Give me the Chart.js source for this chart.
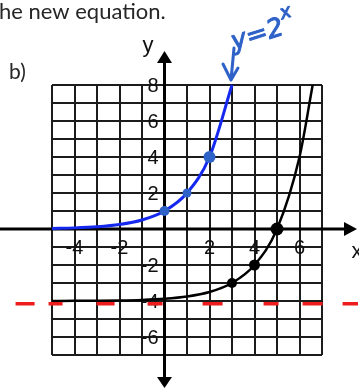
<!DOCTYPE html>
<html>
<head>
<meta charset="utf-8">
<script src="https://cdn.jsdelivr.net/npm/chart.js@4.4.1/dist/chart.umd.min.js"></script>
<style>
  html, body { margin: 0; padding: 0; background: #ffffff; }
  #c { display: block; }
</style>
</head>
<body>
<canvas id="c" width="359" height="388"></canvas>
<script>
// Axis tick labels
const xTickLabels = [-4, -2, 2, 4, 6];
const yTickLabels = [8, 6, 4, 2, -2, -4, -6];

// y = 2^x, sampled at whole numbers
const blueX = [-5, -4, -3, -2, -1, 0, 1, 2, 3];
const blueY = [0.03125, 0.0625, 0.125, 0.25, 0.5, 1, 2, 4, 8];

// shifted curve y = 2^(x-3) - 4
const blackX = [-5, -4, -3, -2, -1, 0, 1, 2, 3, 4, 5, 6, 6.585];
const blackY = [-3.996, -3.992, -3.984, -3.969, -3.938, -3.875, -3.75, -3.5, -3, -2, 0, 4, 8];

// marked points
const blueDotX = [0, 1, 2];
const blueDotY = [1, 2, 4];
const blackDotX = [3, 4, 5];
const blackDotY = [-3, -2, 0];

// horizontal asymptote sketched in red
const asymX = [-7.33, 8.6];
const asymY = [-4.15, -4.15];

const toPts = (xs, ys) => xs.map((x, i) => ({ x: x, y: ys[i] }));

const INK = '#1c1c1c';
const PEN_BLUE = '#2f62c8';

const extras = {
  id: 'extras',
  beforeDatasetsDraw(chart) {
    const ctx = chart.ctx;
    const xs = chart.scales.x, ys = chart.scales.y;
    const ox = xs.getPixelForValue(0), oy = ys.getPixelForValue(0);
    ctx.save();
    ctx.strokeStyle = '#000';
    ctx.fillStyle = '#000';
    ctx.lineWidth = 3;
    // x axis
    ctx.beginPath();
    ctx.moveTo(0, oy); ctx.lineTo(346, oy);
    ctx.stroke();
    ctx.beginPath();
    ctx.moveTo(357, oy); ctx.lineTo(344, oy - 7); ctx.lineTo(344, oy + 7); ctx.closePath();
    ctx.fill();
    // y axis
    ctx.beginPath();
    ctx.moveTo(ox, 62); ctx.lineTo(ox, 378);
    ctx.stroke();
    ctx.beginPath();
    ctx.moveTo(ox, 51); ctx.lineTo(ox - 7.5, 63); ctx.lineTo(ox + 7.5, 63); ctx.closePath();
    ctx.fill();
    ctx.beginPath();
    ctx.moveTo(ox, 388); ctx.lineTo(ox - 7.5, 377); ctx.lineTo(ox + 7.5, 377); ctx.closePath();
    ctx.fill();

    // tick numbers
    ctx.font = '20px "Liberation Sans", Arial, sans-serif';
    ctx.fillStyle = '#111';
    ctx.textBaseline = 'middle';
    ctx.textAlign = 'center';
    const rowBelow = ys.getPixelForValue(-1);
    xTickLabels.forEach(v => {
      ctx.fillText(String(v), xs.getPixelForValue(v), rowBelow + 1);
    });
    ctx.textAlign = 'right';
    yTickLabels.forEach(v => {
      ctx.fillText(String(v), ox - 6, ys.getPixelForValue(v) + 1);
    });

    // axis names
    ctx.font = '22px "Liberation Sans", Arial, sans-serif';
    ctx.textBaseline = 'alphabetic';
    ctx.textAlign = 'center';
    ctx.fillText('y', 148, 52);
    ctx.fillText('x', 357, 258);
    ctx.restore();
  },
  afterDraw(chart) {
    const ctx = chart.ctx;
    ctx.save();
    // worksheet text
    ctx.fillStyle = '#262626';
    ctx.font = '22px Lato, "Open Sans", sans-serif';
    ctx.textBaseline = 'alphabetic';
    ctx.textAlign = 'left';
    ctx.fillText('he new equation.', -1, 19);
    ctx.font = '21px Lato, "Open Sans", sans-serif';
    ctx.fillText('b)', 9, 79);

    // handwritten label with arrow
    ctx.strokeStyle = PEN_BLUE;
    ctx.fillStyle = PEN_BLUE;
    ctx.lineWidth = 3;
    ctx.lineCap = 'round';
    ctx.lineJoin = 'round';
    ctx.beginPath();
    ctx.moveTo(234, 48); ctx.lineTo(231, 80);
    ctx.moveTo(223, 64); ctx.lineTo(231, 80); ctx.lineTo(238, 68);
    ctx.stroke();
    ctx.translate(234, 50);
    ctx.rotate(-0.3);
    ctx.lineWidth = 1;
    ctx.font = 'italic 26px "DejaVu Sans", sans-serif';
    ctx.fillText('y=2', 0, 0);
    ctx.strokeText('y=2', 0, 0);
    const w = ctx.measureText('y=2').width;
    ctx.font = 'italic 19px "DejaVu Sans", sans-serif';
    ctx.fillText('x', w + 1, -15);
    ctx.strokeText('x', w + 1, -15);
    ctx.restore();
  }
};

new Chart(document.getElementById('c'), {
  type: 'scatter',
  data: {
    datasets: [
      {
        data: toPts(asymX, asymY),
        showLine: true,
        borderColor: '#ee1c1c',
        borderWidth: 3.5,
        borderDash: [0, 16, 19, 14, 14, 34, 18, 33, 15, 40, 20, 41, 15, 24, 20, 20, 16, 40],
        pointRadius: 0,
        clip: false
      },
      {
        data: toPts(blackDotX, blackDotY),
        backgroundColor: '#000',
        borderColor: '#000',
        borderWidth: 0,
        pointRadius: [5, 5.5, 6.5],
        clip: false
      },
      {
        data: toPts(blueDotX, blueDotY),
        backgroundColor: PEN_BLUE,
        borderColor: PEN_BLUE,
        borderWidth: 0,
        pointRadius: [5, 4.5, 6],
        clip: false
      },
      {
        data: toPts(blackX, blackY),
        showLine: true,
        borderColor: '#000',
        borderWidth: 2.5,
        cubicInterpolationMode: 'monotone',
        pointRadius: 0,
        clip: false
      },
      {
        data: toPts(blueX, blueY),
        showLine: true,
        borderColor: '#1428f0',
        borderWidth: 3,
        cubicInterpolationMode: 'monotone',
        pointRadius: 0,
        clip: false
      }
    ]
  },
  options: {
    responsive: false,
    devicePixelRatio: 1,
    animation: false,
    layout: { padding: { left: 52, right: 37, top: 85, bottom: 33 } },
    plugins: { legend: { display: false }, tooltip: { enabled: false } },
    scales: {
      x: {
        type: 'linear', min: -5, max: 7,
        ticks: { display: false, stepSize: 1 },
        grid: { color: INK, lineWidth: 2, drawTicks: false },
        border: { display: false }
      },
      y: {
        type: 'linear', min: -7, max: 8,
        ticks: { display: false, stepSize: 1 },
        grid: { color: INK, lineWidth: 2, drawTicks: false },
        border: { display: false }
      }
    }
  },
  plugins: [extras]
});
</script>
</body>
</html>
